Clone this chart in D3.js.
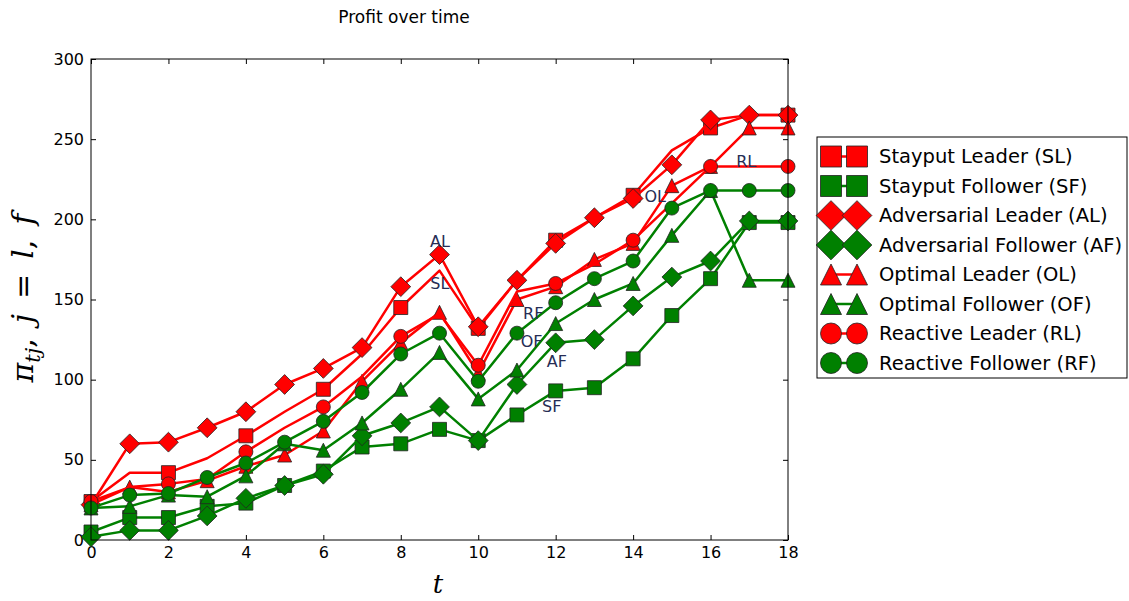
<!doctype html>
<html>
<head>
<meta charset="utf-8">
<script src="https://d3js.org/d3.v7.min.js"></script>
<style>
body { margin: 0; background: #fff; }
text { font-family: "DejaVu Sans", sans-serif; }
</style>
</head>
<body>
<script type="text/javascript">
var width = 1129;
var height = 601;

// time steps and tick labels
var t = [0,1,2,3,4,5,6,7,8,9,10,11,12,13,14,15,16,17,18];
var xTicks = [0,2,4,6,8,10,12,14,16,18];
var yTicks = [0,50,100,150,200,250,300];

// profit per strategy
var SL = [24, 42, 42, 51, 65, 80, 94, 116, 145, 168, 132, 162, 187, 201, 215, 243, 257, 265, 265];
var SF = [5, 14, 14, 21, 23, 34, 43, 58, 60, 69, 62, 78, 93, 95, 113, 140, 163, 198, 198];
var AL = [22, 60, 61, 70, 80, 97, 107, 120, 158, 178, 133, 162, 185, 201, 213, 234, 262, 265, 265];
var AF = [2, 6, 6, 15, 26, 34, 41, 65, 73, 83, 62, 97, 123, 125, 146, 164, 174, 199, 199];
var OL = [22, 33, 30, 37, 46, 53, 68, 99, 123, 142, 104, 150, 158, 175, 185, 221, 233, 257, 257];
var OF = [20, 21, 28, 27, 40, 60, 56, 73, 94, 117, 88, 106, 135, 150, 160, 190, 218, 162, 162];
var RL = [24, 33, 35, 38, 55, 70, 83, 102, 127, 141, 109, 155, 160, 172, 187, 210, 233, 233, 233];
var RF = [20, 28, 29, 39, 48, 61, 74, 92, 116, 129, 99, 129, 148, 163, 174, 207, 218, 218, 218];

var names = ["Stayput Leader (SL)", "Stayput Follower (SF)", "Adversarial Leader (AL)", "Adversarial Follower (AF)",
             "Optimal Leader (OL)", "Optimal Follower (OF)", "Reactive Leader (RL)", "Reactive Follower (RF)"];
var values = [SL, SF, AL, AF, OL, OF, RL, RF];
var colors = ["red", "green", "red", "green", "red", "green", "red", "green"];
var shapes = ["square", "square", "diamond", "diamond", "triangle", "triangle", "circle", "circle"];
var markEvery = [2, 1, 1, 1, 1, 1, 2, 1];

// in-plot annotations
var noteText = ["AL", "SL", "RF", "OF", "AF", "SF", "OL", "RL"];
var noteT = [9.01, 9.01, 11.42, 11.38, 12.03, 11.9, 14.57, 16.92];
var noteV = [186, 160, 141.5, 123.7, 111.7, 83.2, 214, 236];

var x = d3.scaleLinear().domain([0, 18]).range([91, 788]);
var y = d3.scaleLinear().domain([0, 300]).range([540, 59]);

function markerPath(shape, s) {
  var h = s / 2;
  if (shape == "square") return "M" + (-h) + "," + (-h) + "h" + s + "v" + s + "h" + (-s) + "Z";
  if (shape == "diamond") { var d = s * Math.SQRT2 / 2; return "M0," + (-d) + "L" + d + ",0L0," + d + "L" + (-d) + ",0Z"; }
  if (shape == "triangle") return "M0," + (-h) + "L" + h + "," + h + "L" + (-h) + "," + h + "Z";
  return d3.symbol(d3.symbolCircle, Math.PI * h * h)();
}

var svg = d3.select("body").append("svg")
  .attr("width", width)
  .attr("height", height);

// title
svg.append("text")
  .attr("x", 404).attr("y", 23)
  .attr("text-anchor", "middle")
  .style("font-size", "17px")
  .text("Profit over time");

// axes, ticks pointing inwards on all four sides
var axBottom = svg.append("g").attr("transform", "translate(0,540)")
  .call(d3.axisBottom(x).tickValues(xTicks).tickSizeInner(-5).tickSizeOuter(0).tickPadding(7));
var axTop = svg.append("g").attr("transform", "translate(0,59)")
  .call(d3.axisTop(x).tickValues(xTicks).tickSizeInner(-5).tickSizeOuter(0).tickFormat(""));
var axLeft = svg.append("g").attr("transform", "translate(91,0)")
  .call(d3.axisLeft(y).tickValues(yTicks).tickSizeInner(-5).tickSizeOuter(0).tickPadding(7));
var axRight = svg.append("g").attr("transform", "translate(788,0)")
  .call(d3.axisRight(y).tickValues(yTicks).tickSizeInner(-5).tickSizeOuter(0).tickFormat(""));

svg.selectAll(".domain").remove();
svg.selectAll(".tick text").style("font-family", "DejaVu Sans").style("font-size", "16px").attr("fill", "#000");
svg.selectAll(".tick line").attr("stroke", "#000");

var line = d3.line()
  .x(function (d, i) { return x(t[i]); })
  .y(function (d) { return y(d); });

// one group per series: line then markers, in plotting order
var plot = svg.append("g");
values.forEach(function (vals, k) {
  var g = plot.append("g");
  g.append("path")
    .attr("d", line(vals))
    .attr("fill", "none")
    .attr("stroke", colors[k])
    .attr("stroke-width", 2.5)
    .attr("stroke-linejoin", "round");
  g.selectAll("path.mk")
    .data(vals.map(function (v, i) { return { t: t[i], v: v }; })
      .filter(function (d, i) { return i % markEvery[k] == 0; }))
    .enter()
    .append("path")
    .attr("class", "mk")
    .attr("d", markerPath(shapes[k], 14))
    .attr("transform", function (d) { return "translate(" + x(d.t) + "," + y(d.v) + ")"; })
    .attr("fill", colors[k])
    .attr("stroke", "#222")
    .attr("stroke-width", 0.8);
});

// annotations
svg.selectAll("text.note")
  .data(noteText)
  .enter()
  .append("text")
  .attr("class", "note")
  .attr("x", function (d, i) { return x(noteT[i]); })
  .attr("y", function (d, i) { return y(noteV[i]); })
  .attr("dy", "0.35em")
  .attr("text-anchor", "middle")
  .attr("fill", "#262d55")
  .style("font-size", "16px")
  .text(function (d) { return d; });

// plot frame
svg.append("rect")
  .attr("x", 91).attr("y", 59)
  .attr("width", 697).attr("height", 481)
  .attr("fill", "none")
  .attr("stroke", "#000")
  .attr("stroke-width", 1);

// axis labels
svg.append("text")
  .attr("x", 438).attr("y", 593)
  .attr("text-anchor", "middle")
  .style("font-family", "DejaVu Serif")
  .style("font-style", "italic")
  .style("font-size", "26px")
  .text("t");

var ylab = svg.append("text")
  .attr("transform", "translate(33,298) rotate(-90)")
  .attr("text-anchor", "middle")
  .style("font-family", "DejaVu Serif")
  .style("font-style", "italic")
  .style("font-size", "30px");
ylab.append("tspan").text("π");
ylab.append("tspan").attr("dy", 7).style("font-size", "21px").text("tj");
ylab.append("tspan").attr("dy", -7).style("font-style", "normal").text(",");
ylab.append("tspan").attr("dx", 15).text("j");
ylab.append("tspan").attr("dx", 15).style("font-style", "normal").text("=");
ylab.append("tspan").attr("dx", 15).text("l");
ylab.append("tspan").style("font-style", "normal").text(",");
ylab.append("tspan").attr("dx", 15).text("f");

// legend
var legend = svg.append("g");
legend.append("rect")
  .attr("x", 817).attr("y", 137)
  .attr("width", 310).attr("height", 241)
  .attr("fill", "#fff")
  .attr("stroke", "#000")
  .attr("stroke-width", 1);

var rowY = d3.scaleLinear().domain([0, 7]).range([156.5, 363]);
names.forEach(function (name, k) {
  var ry = rowY(k);
  var row = legend.append("g");
  row.append("line")
    .attr("x1", 831).attr("x2", 857)
    .attr("y1", ry).attr("y2", ry)
    .attr("stroke", colors[k])
    .attr("stroke-width", 2.5);
  [831, 857].forEach(function (mx) {
    row.append("path")
      .attr("d", markerPath(shapes[k], 21))
      .attr("transform", "translate(" + mx + "," + ry + ")")
      .attr("fill", colors[k])
      .attr("stroke", "#222")
      .attr("stroke-width", 0.8);
  });
  row.append("text")
    .attr("x", 879).attr("y", ry)
    .attr("dy", "0.35em")
    .style("font-size", "19.5px")
    .attr("fill", "#000")
    .text(name);
});
</script>
</body>
</html>
